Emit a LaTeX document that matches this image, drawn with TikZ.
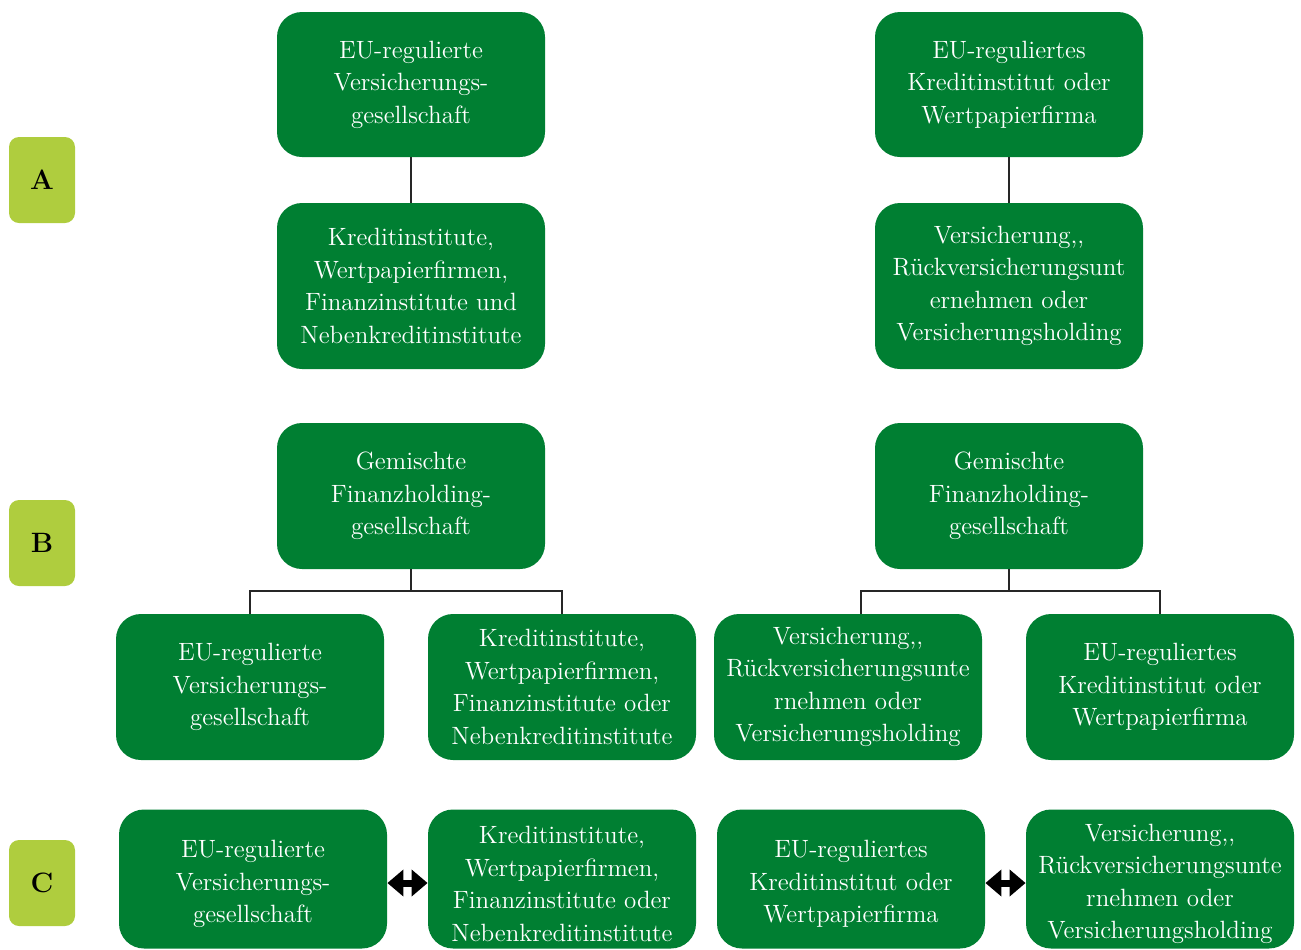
\documentclass[tikz,border=0pt]{standalone}
\usetikzlibrary{arrows.meta}
\definecolor{gr}{RGB}{0,127,50}
\definecolor{lg}{RGB}{175,205,62}
\tikzset{
  gbox/.style={fill=gr, draw=none, rounded corners=12.5pt, minimum width=134pt, text=white, align=center, font=\fontsize{12.5}{16.25}\selectfont, inner sep=0pt},
  gtext/.style={text=white, align=center, font=\fontsize{12.5}{16.25}\selectfont, inner sep=0pt},
  lbox/.style={fill=lg, draw=none, rounded corners=5pt, minimum width=33pt, minimum height=43pt, font=\fontsize{14}{16}\selectfont\bfseries, inner sep=0pt},
  conn/.style={draw=black!85, line width=0.65pt},
  dbl/.style={{Triangle[width=13pt,length=8pt]}-{Triangle[width=13pt,length=8pt]}, line width=3.5pt, black}
}
\begin{document}
\begin{tikzpicture}[x=0.5pt,y=-0.5pt]
\useasboundingbox (0,0) rectangle (1301,949);
% labels
\node[lbox] (LA) at (42,180) {A};
\node[lbox] (LB) at (42,543) {B};
\node[lbox] (LC) at (42,883) {C};
% row A
\node[gbox, minimum height=72.5pt] (A1) at (411,84.5) {EU-regulierte\\Versicherungs-\\gesellschaft};
\node[gbox, minimum height=83pt] (A2) at (411,286) {Kreditinstitute,\\Wertpapierfirmen,\\Finanzinstitute und\\Nebenkreditinstitute};
\node[gbox, minimum height=72.5pt] (A3) at (1009,84.5) {EU-reguliertes\\Kreditinstitut oder\\Wertpapierfirma};
\node[gbox, minimum height=83pt] (A4) at (1009,286) {Versicherung,{},\\Rückversicherungsunt\\ernehmen oder\\Versicherungsholding};
\draw[conn] (A1.south) -- (A2.north);
\draw[conn] (A3.south) -- (A4.north);
% row B
\node[gbox, minimum height=73pt] (B1) at (411,496) {Gemischte\\Finanzholding-\\gesellschaft};
\node[gbox, minimum height=73pt] (B2) at (1009,496) {Gemischte\\Finanzholding-\\gesellschaft};
\node[gbox, minimum height=73pt] (B11) at (250,687) {EU-regulierte\\Versicherungs-\\gesellschaft};
\node[gbox, minimum height=73pt] (B12) at (562,687) {Kreditinstitute,\\Wertpapierfirmen,\\Finanzinstitute oder\\Nebenkreditinstitute};
\node[gbox, minimum height=73pt] (B21) at (848,687) {Versicherung,{},\\Rückversicherungsunte\\rnehmen oder\\Versicherungsholding};
\node[gbox, minimum height=73pt] (B22) at (1160,687) {EU-reguliertes\\Kreditinstitut oder\\Wertpapierfirma};
\coordinate (J1) at (411,591);
\coordinate (J2) at (1009,591);
\draw[conn] (B1.south) -- (J1);
\draw[conn] (B11.north) |- (J1) -| (B12.north);
\draw[conn] (B2.south) -- (J2);
\draw[conn] ([xshift=6.5pt]B21.north) |- (J2) -| (B22.north);
% row C
\node[gbox, minimum height=69.5pt] (C1) at (253,879) {};
\node[gbox, minimum height=69.5pt] (C2) at (562,879) {};
\node[gbox, minimum height=69.5pt] (C3) at (851,879) {};
\node[gbox, minimum height=69.5pt] (C4) at (1160,879) {};
\node[gtext] (C1t) at ([yshift=-2.5pt]C1.center) {EU-regulierte\\Versicherungs-\\gesellschaft};
\node[gtext] (C2t) at ([yshift=-2.5pt]C2.center) {Kreditinstitute,\\Wertpapierfirmen,\\Finanzinstitute oder\\Nebenkreditinstitute};
\node[gtext] (C3t) at ([yshift=-2.5pt]C3.center) {EU-reguliertes\\Kreditinstitut oder\\Wertpapierfirma};
\node[gtext] (C4t) at ([yshift=-2.5pt]C4.center) {Versicherung,{},\\Rückversicherungsunte\\rnehmen oder\\Versicherungsholding};
\draw[dbl] ([yshift=-2pt]C1.east) -- ([yshift=-2pt]C2.west);
\draw[dbl] ([yshift=-2pt]C3.east) -- ([yshift=-2pt]C4.west);
\end{tikzpicture}
\end{document}
